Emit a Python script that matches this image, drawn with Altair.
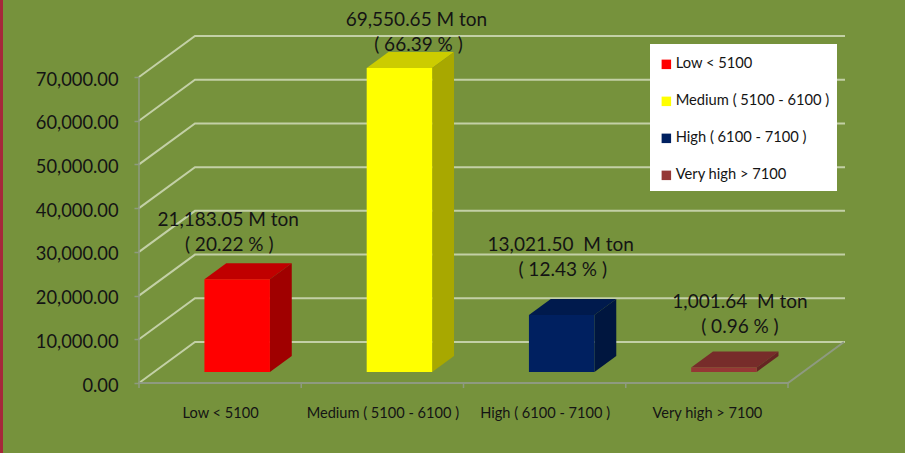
import json
import altair as alt
import pandas as pd

# Chart values
categories = ["Low < 5100", "Medium ( 5100 - 6100 )", "High ( 6100 - 7100 )", "Very high > 7100"]
tonnage = [21183.05, 69550.65, 13021.50, 1001.64]
shares = [20.22, 66.39, 12.43, 0.96]
unit_text = [" M ton", " M ton", " \u00a0M ton", " \u00a0M ton"]
tick_values = [0, 10000, 20000, 30000, 40000, 50000, 60000, 70000]

# Face colours of each column
front_colors = ["#FF0000", "#FFFF00", "#002060", "#953735"]
top_colors = ["#C00000", "#CCCC00", "#001A4D", "#772C2A"]
side_colors = ["#A00000", "#A8A800", "#00163F", "#662523"]

# Layout of the oblique projection
WIDTH, HEIGHT = 706, 347
PAD = {"left": 139, "top": 36, "right": 60, "bottom": 70}
PX_PER_CAT = 162.25
PX_PER_VAL = 306 / 70000
DEPTH_X = 0.345      # category units from the front to the back wall
DEPTH_Y = 41 / PX_PER_VAL  # value units from the front to the back wall
D0, D1 = 0.27, 0.66  # depth range occupied by the columns
BAR_W = 65.5 / PX_PER_CAT
BAR_SHIFT = 0.512
X_MAX = WIDTH / PX_PER_CAT
Y_MAX = HEIGHT / PX_PER_VAL
# Pixel offsets of the two label lines from the column's top-front centre
LINE_OFFSETS = [
    [(-9, -59), (-8, -34)],
    [(17, -48), (19, -23)],
    [(-1, -70), (1, -45)],
    [(16, -66), (16, -41)],
]

FONT = "Lato"
INK = "#141414"
GRID = "#C3D0A6"
FLOOR = "#8E9A80"


def project(x, value, depth):
    return x + depth * DEPTH_X, value + depth * DEPTH_Y


front_rows, top_rows, side_rows, label_rows = [], [], [], []
for i, cat in enumerate(categories):
    left = i + BAR_SHIFT - BAR_W / 2
    right = i + BAR_SHIFT + BAR_W / 2
    v = tonnage[i]
    xa, ya = project(left, 0, D0)
    xb, yb = project(right, v, D0)
    front_rows.append({"cat": cat, "x": xa, "x2": xb, "y": ya, "y2": yb})
    for depth in (D0, D1):
        xl, yv = project(left, v, depth)
        xr, _ = project(right, v, depth)
        top_rows.append({"shade": top_colors[i], "x": xl, "x2": xr, "y": yv})
        xs, ys = project(right, v, depth)
        _, yb0 = project(right, 0, depth)
        side_rows.append({"shade": side_colors[i], "x": xs, "y": yb0, "y2": ys})
    texts = [f"{v:,.2f}{unit_text[i]}", f"( {shares[i]:.2f} % )"]
    for text, (ox, oy) in zip(texts, LINE_OFFSETS[i]):
        label_rows.append({
            "x": (xa + xb) / 2 + ox / PX_PER_CAT,
            "y": yb - oy / PX_PER_VAL,
            "text": text,
        })

# Wall gridlines: diagonal on the side wall, then level along the back wall
grid_rows = []
for t in tick_values:
    bx, by = project(0, t, 1)
    grid_rows += [
        {"tick": t, "x": 0, "y": t, "o": 0},
        {"tick": t, "x": bx, "y": by, "o": 1},
        {"tick": t, "x": X_MAX, "y": by, "o": 2},
    ]
fx, fy = project(4, 0, 1)
floor_rows = [{"x": 0, "y": 0, "o": 0}, {"x": 4, "y": 0, "o": 1}, {"x": fx, "y": fy, "o": 2}]
floor_ticks = [{"x": k} for k in range(5)]

xs_scale = alt.Scale(domain=[0, X_MAX], nice=False, zero=False)
ys_scale = alt.Scale(domain=[0, Y_MAX], nice=False, zero=False)
x_axis = alt.Axis(
    values=[i + 0.5 for i in range(4)],
    labelExpr=f"{json.dumps(categories)}[floor(datum.value)]",
    domain=False, ticks=False, grid=False, labelPadding=22,
    labelFont=FONT, labelFontSize=14.6, labelColor=INK, labelAngle=0,
    labelOverlap=False, labelFlush=False, labelBound=False,
)
y_axis = alt.Axis(
    values=tick_values, format=",.2f", domain=False, grid=False,
    tickColor=FLOOR, tickSize=5, tickWidth=1.5, labelPadding=16, labelOffset=3,
    labelFont=FONT, labelFontSize=18.3, labelColor=INK,
    labelOverlap=False, labelBound=False,
)
X = alt.X("x:Q", scale=xs_scale, axis=x_axis, title=None)
Y = alt.Y("y:Q", scale=ys_scale, axis=y_axis, title=None)

strip = alt.Chart(pd.DataFrame([{"a": 0}])).mark_rect(color="#A6273A").encode(
    x=alt.value(-PAD["left"]), x2=alt.value(-PAD["left"] + 3),
    y=alt.value(-PAD["top"]), y2=alt.value(HEIGHT + PAD["bottom"]),
)

grid = alt.Chart(pd.DataFrame(grid_rows)).mark_line(color=GRID, strokeWidth=2).encode(
    x=X, y=Y, detail="tick:N", order="o:Q"
)
wall = alt.Chart(pd.DataFrame({"x": [0, 0], "y": [0, 70000], "o": [0, 1]})).mark_line(
    color=FLOOR, strokeWidth=1.5
).encode(x=X, y=Y, order="o:Q")
floor = alt.Chart(pd.DataFrame(floor_rows)).mark_line(color=FLOOR, strokeWidth=2).encode(
    x=X, y=Y, order="o:Q"
)
floor_tick = alt.Chart(pd.DataFrame(floor_ticks)).mark_rule(color=FLOOR, strokeWidth=1.5).encode(
    x=X, y=alt.value(HEIGHT), y2=alt.value(HEIGHT + 5)
)

tops = alt.Chart(pd.DataFrame(top_rows)).mark_area(orient="horizontal").encode(
    y=Y, x=X, x2="x2:Q",
    fill=alt.Fill("shade:N", scale=None),
)
sides = alt.Chart(pd.DataFrame(side_rows)).mark_area(orient="vertical").encode(
    x=X, y=Y, y2="y2:Q",
    fill=alt.Fill("shade:N", scale=None),
)
fronts = alt.Chart(pd.DataFrame(front_rows)).mark_rect().encode(
    x=X, x2="x2:Q", y=Y, y2="y2:Q",
    color=alt.Color("cat:N", sort=categories,
                    scale=alt.Scale(domain=categories, range=front_colors),
                    legend=alt.Legend(
                        title=None, orient="none", legendX=510, legendY=11,
                        padding=10, symbolType="square",
                        symbolSize=90, symbolStrokeWidth=0, rowPadding=21,
                        labelFont=FONT, labelFontSize=14.7, labelColor=INK,
                        labelOffset=2, labelLimit=220,
                    )),
)
# White panel behind the legend entries
legend_panel = alt.Chart(pd.DataFrame([{"a": 0}])).mark_rect(color="white").encode(
    x=alt.value(511), x2=alt.value(698), y=alt.value(8), y2=alt.value(155),
)
labels = alt.Chart(pd.DataFrame(label_rows)).mark_text(
    font=FONT, fontSize=19, color=INK, align="center", baseline="middle"
).encode(x=X, y=Y, text="text:N")

chart = alt.layer(strip, grid, wall, floor, floor_tick, tops, sides, fronts, legend_panel, labels).properties(
    width=WIDTH, height=HEIGHT, padding=PAD,
    autosize=alt.AutoSizeParams(type="none"),
    background="#76923C",
).configure_view(stroke=None)

chart.save("out.html", embed_options={"renderer": "svg", "actions": False})
